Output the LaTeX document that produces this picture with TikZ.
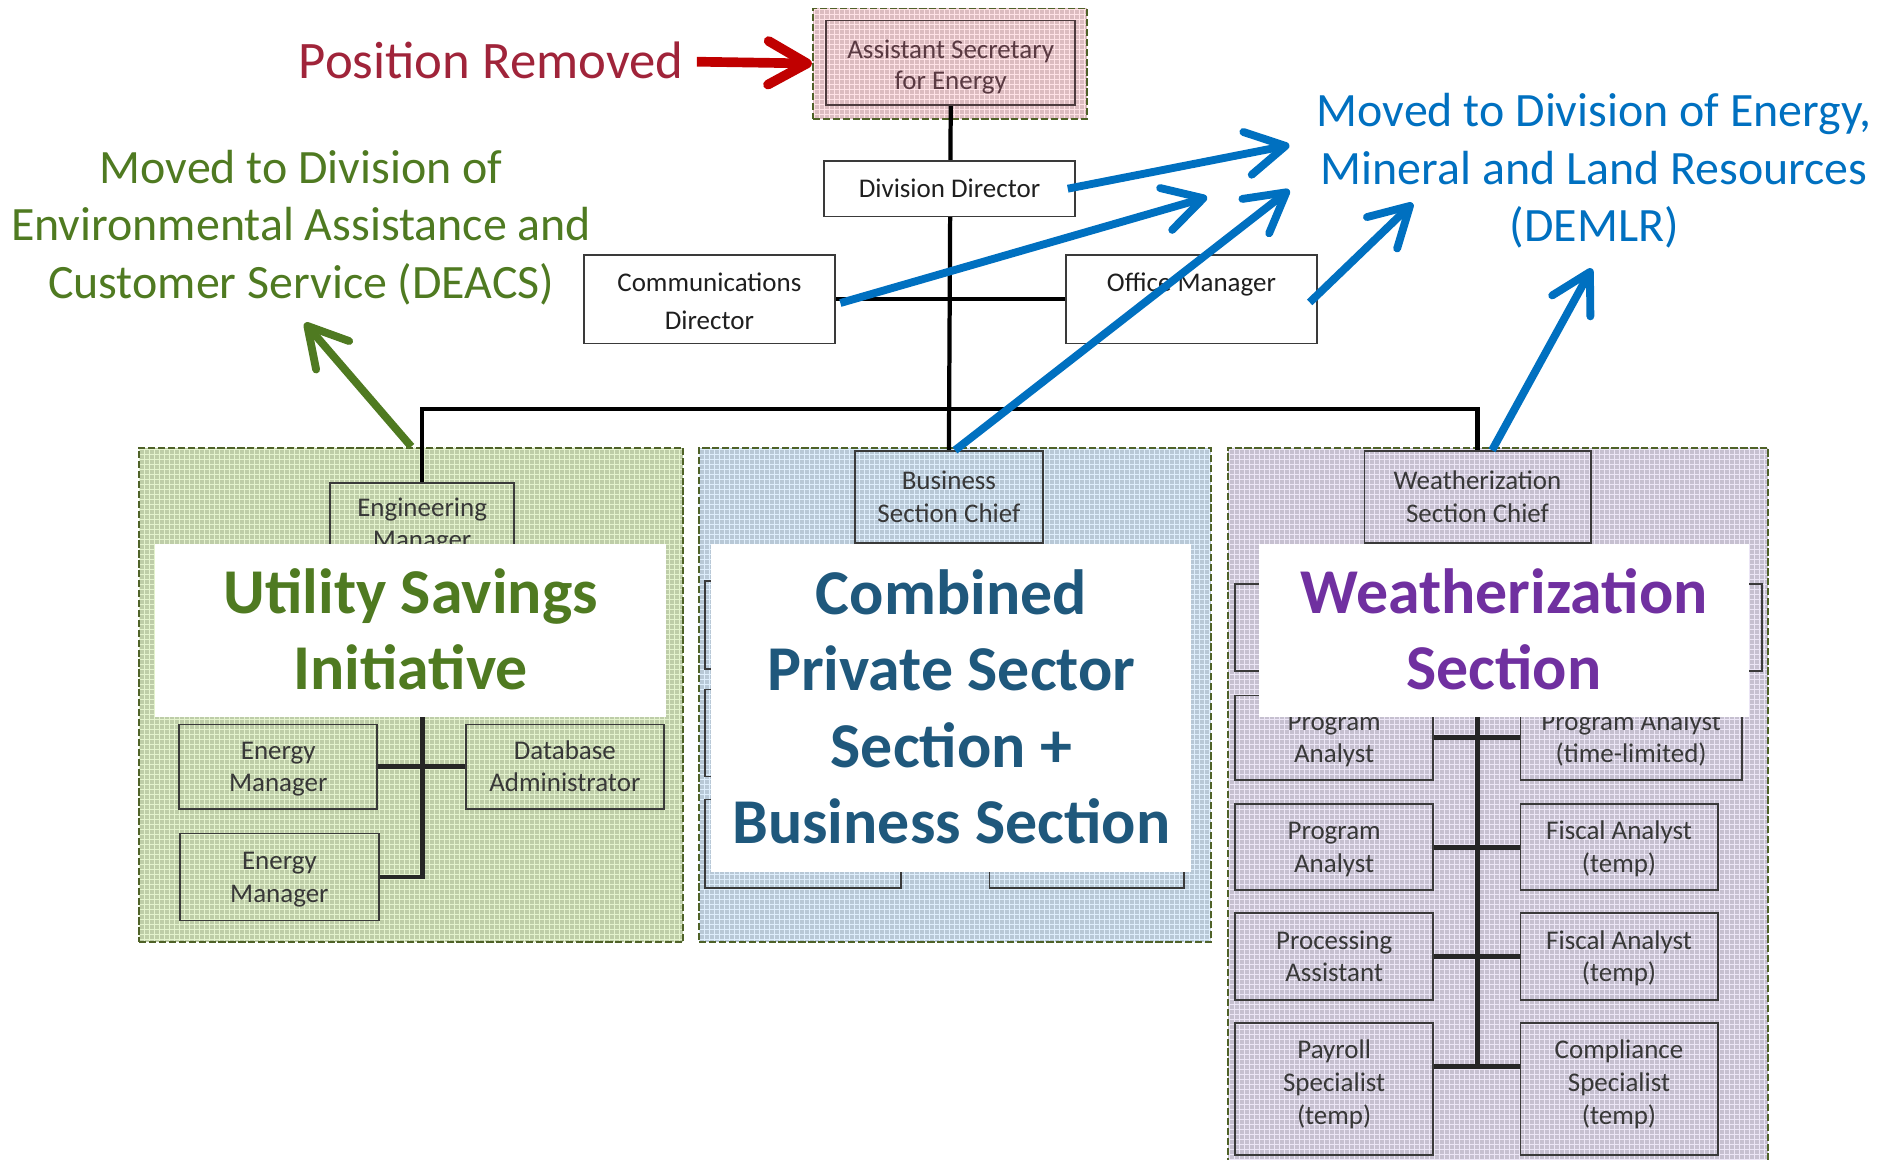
\documentclass[tikz,border=0pt]{standalone}
\usepackage{fontspec}
\setmainfont{Carlito}
\usetikzlibrary{arrows.meta,patterns.meta}
\pgfdeclarelayer{secs}
\pgfdeclarelayer{lines}
\pgfsetlayers{secs,lines,main}
\definecolor{secolive}{HTML}{4F6228}
\definecolor{pinkbase}{HTML}{DCBCC0}
\definecolor{pinkgrid}{HTML}{FFE2E6}
\definecolor{greenbase}{HTML}{BECDA8}
\definecolor{greengrid}{HTML}{E4F3CE}
\definecolor{bluebase}{HTML}{B8C8D6}
\definecolor{bluegrid}{HTML}{DEEEFC}
\definecolor{purplebase}{HTML}{C6C0D0}
\definecolor{purplegrid}{HTML}{ECE6F6}
\definecolor{boxline}{HTML}{3A3A3A}
\definecolor{innertext}{HTML}{383838}
\definecolor{astext}{HTML}{5A3A42}
\definecolor{asline}{HTML}{4D3B3E}
\definecolor{remred}{HTML}{A0243A}
\definecolor{arrowred}{HTML}{C00000}
\definecolor{deacsgreen}{HTML}{4F7A21}
\definecolor{demlrblue}{HTML}{0070C0}
\definecolor{combblue}{HTML}{1F587C}
\definecolor{wxpurple}{HTML}{7030A0}
% struts that make a node centre fall on the middle of its capitals
\newcommand\Tstr{\rule{0pt}{0.95em}}
\newcommand\TstrD{\rule{0pt}{\dimexpr0.95em+4pt\relax}}
\newcommand\Bstr{\rule[-0.3em]{0pt}{0pt}}
\tikzdeclarepattern{
  name=officegrid,
  type=uncolored,
  bounding box={(0pt,0pt) and (4.1336pt,4.1336pt)},
  tile size={(4.1336pt,4.1336pt)},
  code={
    \pgfsetlinewidth{0.8pt}
    \pgfpathmoveto{\pgfpoint{0pt}{0.4pt}}
    \pgfpathlineto{\pgfpoint{4.1336pt}{0.4pt}}
    \pgfpathmoveto{\pgfpoint{0.4pt}{0pt}}
    \pgfpathlineto{\pgfpoint{0.4pt}{4.1336pt}}
    \pgfusepath{stroke}
  }
}
\begin{document}
\begin{tikzpicture}[x=1pt,y=-1pt,
  section/.style={draw=secolive, line width=1.6pt, dash pattern=on 6pt off 2.2pt, inner sep=0pt},
  textured/.style={preaction={fill=#1base}, pattern=officegrid, pattern color=#1grid},
  orgbox/.style={draw=boxline, line width=1.5pt, inner sep=0pt, align=center, text=innertext, font=\fontsize{22.3}{27}\selectfont},
  topbox/.style={orgbox, fill=white, text=black!88},
  plaintext/.style={inner sep=0pt, align=center, text=innertext, font=\fontsize{22.3}{27}\selectfont},
  biglabel/.style={fill=white, inner sep=0pt, align=center, font=\bfseries\fontsize{52.8}{63}\selectfont},
  note/.style={inner sep=0pt, align=center, font=\fontsize{39.6}{47.5}\selectfont},
  conn/.style={line width=3.5pt, black},
  inconn/.style={line width=4pt, black!85},
  movearrow/.style={line width=6.5pt, -{Straight Barb[length=32pt, width=36pt, round]}},
]
\useasboundingbox (0,0) rectangle (1567.5,959);

% ---------- section backgrounds ----------
\begin{pgfonlayer}{secs}
\node[section, textured=pink, minimum width=227pt, minimum height=91pt] (asouter) at (785.5,52.5) {};
\node[section, textured=green, minimum width=450pt, minimum height=409pt] (usi) at (340,574.5) {};
\node[section, textured=blue, minimum width=423pt, minimum height=409pt] (cps) at (789.5,574.5) {};
\node[section, textured=purple, minimum width=447pt, minimum height=610pt] (wxs) at (1238.5,675) {};
\end{pgfonlayer}

% ---------- top boxes ----------
\node[orgbox, draw=asline, text=astext, minimum width=206pt, minimum height=70pt, font=\fontsize{22.3}{26}\selectfont] (ase) at (786,52) {\TstrD Assistant Secretary\\for Energy\Bstr};
\node[topbox, minimum width=208pt, minimum height=46pt] (dd) at (785,156) {\Tstr Division Director\Bstr};
\node[topbox, minimum width=207pt, minimum height=73pt, font=\fontsize{22.3}{32}\selectfont] (comm) at (586.5,247.5) {\TstrD Communications\\Director\Bstr};
\node[topbox, minimum width=208pt, minimum height=73pt, font=\fontsize{22.3}{32}\selectfont] (office) at (985,247.5) {\TstrD Office Manager\\\Bstr};

% ---------- Utility Savings section ----------
\node[orgbox, minimum width=152pt, minimum height=68pt] (engmgr) at (349,433) {\Tstr Engineering\\Manager\Bstr};
\node[orgbox, minimum width=164pt, minimum height=70pt] (em1) at (230,634) {\Tstr Energy\\Manager\Bstr};
\node[orgbox, minimum width=164pt, minimum height=70pt] (dba) at (467,634) {\Tstr Database\\Administrator\Bstr};
\node[orgbox, minimum width=164pt, minimum height=72pt] (em2) at (231,725) {\Tstr Energy\\Manager\Bstr};

% ---------- Combined section ----------
\node[orgbox, minimum width=155pt, minimum height=76pt] (bchief) at (784.5,411) {\Tstr Business\\Section Chief\Bstr};
\node[orgbox, minimum width=162pt, minimum height=73pt] (bl1) at (664,516.5) {};
\node[orgbox, minimum width=162pt, minimum height=72pt] (bl2) at (664,606) {};
\node[orgbox, minimum width=162pt, minimum height=73pt] (bl3) at (664,697.5) {};
\node[orgbox, minimum width=161pt, minimum height=73pt] (br1) at (898.5,516.5) {};
\node[orgbox, minimum width=161pt, minimum height=72pt] (br2) at (898.5,606) {};
\node[orgbox, minimum width=161pt, minimum height=73pt] (br3) at (898.5,697.5) {};

% ---------- Weatherization section ----------
\node[orgbox, minimum width=187pt, minimum height=76pt] (wchief) at (1221.5,411) {\Tstr Weatherization\\Section Chief\Bstr};
\node[orgbox, minimum width=164pt, minimum height=72pt] (pl0) at (1103,519) {};
\node[orgbox, minimum width=200pt, minimum height=72pt] (pr0) at (1357,519) {};
\node[orgbox, minimum width=164pt, minimum height=70pt] (pa1) at (1103,610) {\Tstr Program\\Analyst\Bstr};
\node[orgbox, minimum width=183pt, minimum height=70pt] (pat) at (1348.5,610) {\Tstr Program Analyst\\(time-limited)\Bstr};
\node[orgbox, minimum width=164pt, minimum height=71pt] (pa2) at (1103,700.5) {\Tstr Program\\Analyst\Bstr};
\node[orgbox, minimum width=163pt, minimum height=71pt] (fa1) at (1338.5,700.5) {\Tstr Fiscal Analyst\\(temp)\Bstr};
\node[orgbox, minimum width=164pt, minimum height=72pt] (proc) at (1103,791) {\Tstr Processing\\Assistant\Bstr};
\node[orgbox, minimum width=163pt, minimum height=72pt] (fa2) at (1338.5,791) {\Tstr Fiscal Analyst\\(temp)\Bstr};
\node[orgbox, minimum width=164pt, minimum height=109pt] (pay) at (1103,900.5) {};
\node[orgbox, minimum width=163pt, minimum height=109pt] (comp) at (1338.5,900.5) {};
\node[plaintext] (paytxt) at (1103,895) {\Tstr Payroll\\Specialist\\(temp)\Bstr};
\node[plaintext] (comptxt) at (1338.5,895) {\Tstr Compliance\\Specialist\\(temp)\Bstr};
\coordinate (paytie) at ([yshift=18.5pt]pay.east);
\coordinate (comptie) at ([yshift=18.5pt]comp.west);

% ---------- connector lines ----------
\coordinate (busM) at (786,338);
\begin{pgfonlayer}{lines}
\draw[conn] (ase.south) -- (bchief.north);
\draw[conn] (comm.east) -- (office.west);
\draw[conn] (engmgr.north) |- (busM) -| (wchief.north);
\draw[inconn] (engmgr.south) -- (engmgr.south |- em2.east) -- (em2.east);
\draw[inconn] (em1.east) -- (dba.west);
\draw[inconn] (wchief.south) -- (wchief.south |- paytie);
\draw[inconn] (pa1.east) -- (pat.west);
\draw[inconn] (pa2.east) -- (fa1.west);
\draw[inconn] (proc.east) -- (fa2.west);
\draw[inconn] (paytie) -- (comptie);
\end{pgfonlayer}

% ---------- white title labels ----------
\node[biglabel, text=deacsgreen, minimum width=423pt, minimum height=143pt] (uslabel) at (339.5,521.5) {\Tstr Utility Savings\\Initiative\Bstr};
\node[biglabel, text=combblue, minimum width=397pt, minimum height=271pt] (cpslabel) at (786.5,585.5) {\Tstr Combined\\Private Sector\\Section +\\Business Section\Bstr};
\node[biglabel, text=wxpurple, minimum width=405pt, minimum height=143pt] (wxlabel) at (1243.5,521.5) {\Tstr Weatherization\\Section\Bstr};

% ---------- annotations ----------
\node[note, text=remred, font=\fontsize{43.6}{50}\selectfont] (posrem) at (406,51) {\Tstr Position Removed\Bstr};
\node[note, text=deacsgreen] (deacs) at (249,186) {\Tstr Moved to Division of\\Environmental Assistance and\\Customer Service (DEACS)\Bstr};
\node[note, text=demlrblue] (demlr) at (1318,139.5) {\Tstr Moved to Division of Energy,\\Mineral and Land Resources\\(DEMLR)\Bstr};

\coordinate (tA) at (1066,120);
\coordinate (tB) at (998,163);
\coordinate (tC) at (1066,157);
\coordinate (tD) at (1168,168);
\coordinate (tE) at (1316,222);
\coordinate (tG) at (252,267);

\draw[line width=8pt, arrowred, -{Straight Barb[length=32pt, width=36pt, round]}] ([xshift=11pt]posrem.east) -- (asouter.west);
\draw[movearrow, deacsgreen] (usi.north) -- (tG);
\draw[movearrow, demlrblue] ([xshift=-7pt]dd.east) -- (tA);
\draw[movearrow, demlrblue] ([shift={(4pt,-3pt)}]comm.east) -- (tB);
\draw[movearrow, demlrblue] ([xshift=5pt]bchief.north) -- (tC);
\draw[movearrow, demlrblue] ([shift={(-7pt,-2.5pt)}]office.east) -- (tD);
\draw[movearrow, demlrblue] ([xshift=12pt]wchief.north) -- (tE);
\end{tikzpicture}
\end{document}
